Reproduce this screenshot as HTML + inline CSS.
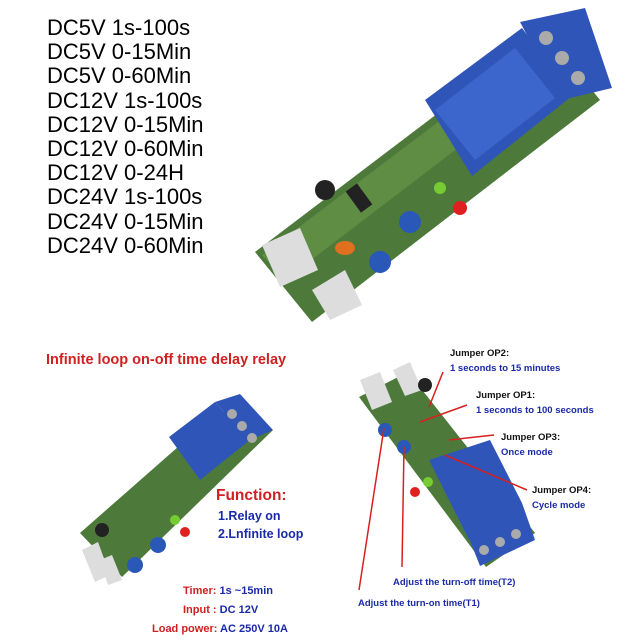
<!DOCTYPE html>
<html><head><style>
body{margin:0;width:640px;height:640px;background:#fff;overflow:hidden;font-family:"Liberation Sans",sans-serif}
.l{position:absolute;left:47px;font-size:22px;color:#000;line-height:24.2px}
</style></head><body>
<div class="l" style="top:16px">DC5V 1s-100s<br>DC5V 0-15Min<br>DC5V 0-60Min<br>DC12V 1s-100s<br>DC12V 0-15Min<br>DC12V 0-60Min<br>DC12V 0-24H<br>DC24V 1s-100s<br>DC24V 0-15Min<br>DC24V 0-60Min</div>
<svg width="640" height="640" style="position:absolute;left:0;top:0" font-family="Liberation Sans, sans-serif" font-weight="bold">
<polygon points="255,252 545,32 600,100 312,322" fill="#4d7a3a"/>
<polygon points="262,255 540,45 560,70 285,280" fill="#6a9a4a" opacity=".6"/>
<polygon points="425,100 522,28 572,96 472,176" fill="#2f55b8"/>
<polygon points="435,110 515,48 555,98 475,160" fill="#3d66cc"/>
<polygon points="520,22 585,8 612,88 562,100" fill="#2f55b8"/>
<circle cx="546" cy="38" r="7" fill="#aaa"/><circle cx="562" cy="58" r="7" fill="#aaa"/><circle cx="578" cy="78" r="7" fill="#aaa"/>
<polygon points="262,245 300,228 318,270 280,287" fill="#ddd"/>
<polygon points="312,290 345,270 362,305 330,320" fill="#ddd"/>
<circle cx="325" cy="190" r="10" fill="#222"/>
<circle cx="380" cy="262" r="11" fill="#2a58b8"/><circle cx="410" cy="222" r="11" fill="#2a58b8"/>
<circle cx="460" cy="208" r="7" fill="#e02020"/><circle cx="440" cy="188" r="6" fill="#7c3"/>
<ellipse cx="345" cy="248" rx="10" ry="7" fill="#e07020"/>
<rect x="352" y="185" width="14" height="26" fill="#222" transform="rotate(-36 359 198)"/>
<text x="46" y="364" font-size="14.5" fill="#d02020">Infinite loop on-off time delay relay</text>
<text x="216" y="500" font-size="15.5" fill="#d02020">Function:</text>
<text x="218" y="520" font-size="12.5" fill="#1a2aa8">1.Relay on</text>
<text x="218" y="538" font-size="12.5" fill="#1a2aa8">2.Lnfinite loop</text>
<text x="183" y="594" font-size="11" fill="#d02020">Timer: <tspan fill="#1a2aa8">1s ~15min</tspan></text>
<text x="183" y="613" font-size="11" fill="#d02020">Input : <tspan fill="#1a2aa8">DC 12V</tspan></text>
<text x="152" y="632" font-size="11" fill="#d02020">Load power: <tspan fill="#1a2aa8">AC 250V 10A</tspan></text>
<polygon points="80,533 220,410 273,430 122,577" fill="#4d7a3a"/>
<polygon points="169,437 215,402 250,440 200,480" fill="#2f55b8"/>
<polygon points="215,402 240,394 273,430 250,440" fill="#2f55b8"/>
<circle cx="232" cy="414" r="5" fill="#aaa"/><circle cx="242" cy="426" r="5" fill="#aaa"/><circle cx="252" cy="438" r="5" fill="#aaa"/>
<polygon points="82,550 98,542 110,575 95,582" fill="#ddd"/>
<polygon points="100,560 112,555 122,580 108,585" fill="#ddd"/>
<circle cx="102" cy="530" r="7" fill="#222"/>
<circle cx="135" cy="565" r="8" fill="#2a58b8"/><circle cx="158" cy="545" r="8" fill="#2a58b8"/>
<circle cx="185" cy="532" r="5" fill="#e02020"/><circle cx="175" cy="520" r="5" fill="#7c3"/>
<polygon points="359,397 408,372 535,533 486,567" fill="#4d7a3a"/>
<polygon points="429,460 490,440 522,503 469,540" fill="#2f55b8"/>
<polygon points="465,528 522,503 535,540 480,566" fill="#2f55b8"/>
<circle cx="484" cy="550" r="5" fill="#aaa"/><circle cx="500" cy="542" r="5" fill="#aaa"/><circle cx="516" cy="534" r="5" fill="#aaa"/>
<polygon points="360,380 380,372 392,402 372,410" fill="#ddd"/>
<polygon points="393,370 410,362 422,390 405,396" fill="#ddd"/>
<circle cx="425" cy="385" r="7" fill="#222"/>
<circle cx="385" cy="430" r="7" fill="#2a58b8"/><circle cx="404" cy="447" r="7" fill="#2a58b8"/>
<circle cx="415" cy="492" r="5" fill="#e02020"/><circle cx="428" cy="482" r="5" fill="#7c3"/>
<g stroke="#d82020" stroke-width="1.5" fill="none">
<line x1="443" y1="372" x2="429" y2="407"/>
<line x1="467" y1="405" x2="420" y2="422"/>
<line x1="494" y1="435" x2="449" y2="440"/>
<line x1="527" y1="490" x2="445" y2="455"/>
<line x1="359" y1="590" x2="384" y2="428"/>
<line x1="402" y1="567" x2="404" y2="447"/>
</g>
<g font-size="9.5">
<text x="450" y="356" fill="#111">Jumper OP2:</text>
<text x="450" y="371" fill="#1a2aa8">1 seconds to 15 minutes</text>
<text x="476" y="398" fill="#111">Jumper OP1:</text>
<text x="476" y="413" fill="#1a2aa8">1 seconds to 100 seconds</text>
<text x="501" y="440" fill="#111">Jumper OP3:</text>
<text x="501" y="455" fill="#1a2aa8">Once mode</text>
<text x="532" y="493" fill="#111">Jumper OP4:</text>
<text x="532" y="508" fill="#1a2aa8">Cycle mode</text>
<text x="393" y="585" fill="#1a2aa8">Adjust the turn-off time(T2)</text>
<text x="358" y="606" fill="#1a2aa8">Adjust the turn-on time(T1)</text>
</g>
</svg>
</body></html>
